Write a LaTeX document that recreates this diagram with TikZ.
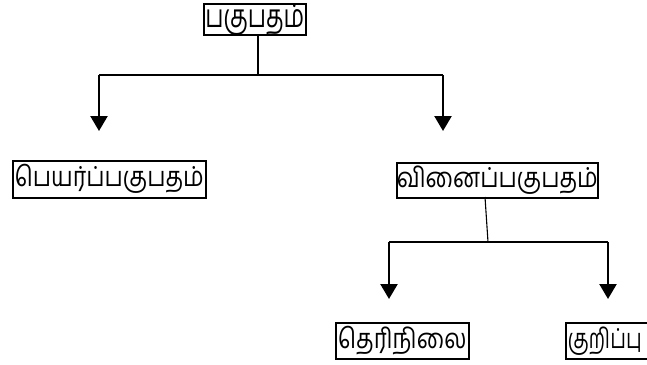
\documentclass[tikz,border=0pt]{standalone}
\usepackage{fontspec}
\newfontfamily\tamilfont[Script=Tamil, FakeStretch=0.84]{Hind Madurai}
\newfontfamily\tamilbig[Script=Tamil, FakeStretch=0.72]{Hind Madurai}
\usetikzlibrary{arrows.meta}
\tikzset{
  box/.style={draw=black, line width=1.6pt, inner sep=0pt, anchor=north west, font=\tamilfont\fontsize{27.5}{30}\selectfont},
  stem/.style={line width=1.1pt},
  bar/.style={line width=1.6pt},
  arr/.style={line width=2.4pt, -{Triangle[length=15pt,width=17pt]}},
}
\begin{document}
\begin{tikzpicture}[x=1pt,y=-1pt]
\useasboundingbox (0,0) rectangle (647,364);
\clip (0,0) rectangle (647,364);
\node[box, minimum width=102pt, minimum height=31pt, font=\tamilbig\fontsize{32}{34}\selectfont] (top) at (203,3) {\raisebox{-3pt}{பகுபதம்}};
\node[box, minimum width=193pt, minimum height=37pt] (lft) at (12,160) {பெயர்ப்பகுபதம்};
\node[box, minimum width=201pt, minimum height=35pt] (rgt) at (396,162) {வினைப்பகுபதம்};
\node[box, minimum width=133pt, minimum height=36pt] (bl) at (335,322) {தெரிநிலை};
\node[box, minimum width=100pt, minimum height=36pt, text width=98pt, align=left] (br) at (565,322) {\hspace{1pt}\scalebox{0.86}[1]{குறிப்பு}};
\coordinate (j1) at (258,75);
\coordinate (j1l) at (99,75);
\coordinate (j1r) at (443,75);
\coordinate (a1l) at (99,131);
\coordinate (a1r) at (443,131);
\coordinate (s2) at (485,197);
\coordinate (j2) at (488,242);
\coordinate (j2l) at (389,242);
\coordinate (j2r) at (608,242);
\coordinate (a2l) at (389,299);
\coordinate (a2r) at (608,299);
\draw[stem] (top.south -| j1) -- (j1);
\draw[bar] (j1l) -- (j1r);
\draw[arr] (j1l) -- (a1l);
\draw[arr] (j1r) -- (a1r);
\draw[stem] (s2) -- (j2);
\draw[bar] (j2l) -- (j2r);
\draw[arr] (j2l) -- (a2l);
\draw[arr] (j2r) -- (a2r);
\end{tikzpicture}
\end{document}
